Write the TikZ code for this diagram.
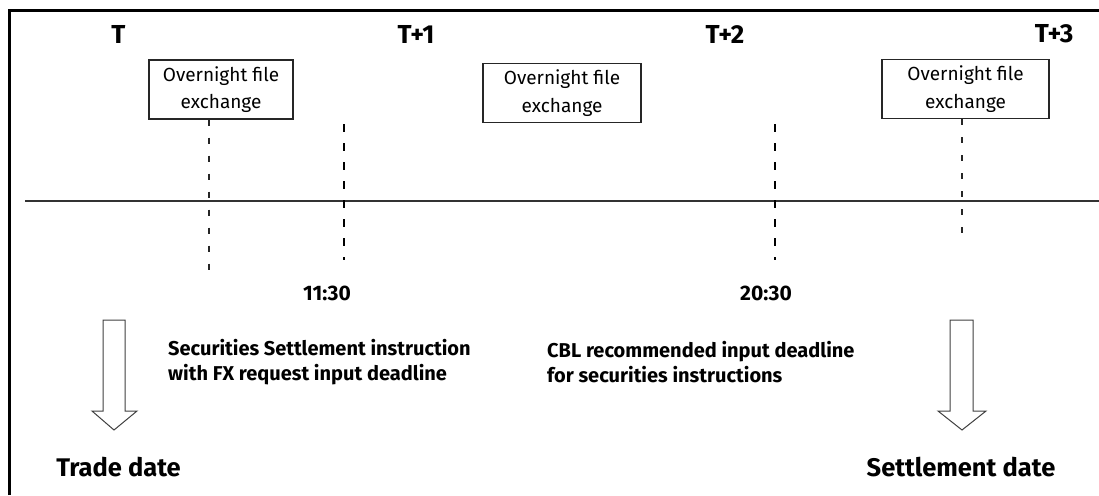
\documentclass[tikz,border=0pt]{standalone}
\usepackage{fontspec}
\setmainfont{Fira Sans}
\begin{document}
\begin{tikzpicture}[x=1pt,y=-1pt,
  hdr/.style={font=\bfseries\fontsize{26}{30}\selectfont, inner sep=0pt},
  lbl/.style={font=\bfseries\fontsize{20}{25}\selectfont, inner sep=0pt, align=left},
  bigl/.style={font=\bfseries\fontsize{25.5}{30}\selectfont, inner sep=0pt},
  tm/.style={font=\bfseries\fontsize{21}{25}\selectfont, inner sep=0pt},
  ofe/.style={draw=black!85, line width=1.1pt, font=\fontsize{19}{27.5}\selectfont, align=center, inner sep=0pt, minimum height=59pt},
  thindash/.style={draw=black!85, line width=1.1pt, dash pattern=on 6pt off 12pt},
  thickdash/.style={draw=black, line width=2.8pt, dash pattern=on 8pt off 11pt},
  bigarrow/.style={draw=black!75, line width=1pt, fill=white}
]
\useasboundingbox (0,0) rectangle (1099,495);
% frame (top and left)
\draw[line width=2.2pt] (9.5,495) -- (9.5,10.5) -- (1099,10.5);
% timeline
\coordinate (tlL) at (25,201);
\coordinate (tlR) at (1099,201);
\draw[black!80, line width=1.6pt] (tlL) -- (tlR);
% headers
\node[hdr] (t0) at (118.5,34) {T};
\node[hdr] (t1) at (416,34) {T+1};
\node[hdr] (t2) at (725,34) {T+2};
\node[hdr] (t3) at (1054,34) {T+3};
% overnight boxes
\node[ofe, minimum width=144pt] (b1) at (221,89.5) {Overnight file\\exchange};
\node[ofe, minimum width=158pt] (b2) at (562,93) {Overnight file\\exchange};
\node[ofe, minimum width=167pt] (b3) at (965.5,89) {Overnight file\\exchange};
% dashed lines
\coordinate (d1) at (209,277);
\coordinate (d4) at (962,236);
\draw[thindash] (b1.south -| d1) -- (d1);
\draw[thindash] (b3.south -| d4) -- (d4);
\coordinate (k1t) at (344,124);
\coordinate (k1b) at (344,260);
\coordinate (k2t) at (775,124);
\coordinate (k2b) at (775,260);
\draw[thickdash] (k1t) -- (k1b);
\draw[thickdash] (k2t) -- (k2b);
% times
\node[tm] (h1) at (327,293) {11:30};
\node[tm] (h2) at (766,293) {20:30};
% descriptions
\node[lbl, anchor=west] (s1) at (168,362) {Securities Settlement instruction\\with FX request input deadline};
\node[lbl, anchor=west] (s2) at (547,362) {CBL recommended input deadline\\for securities instructions};
% big arrows
\draw[bigarrow] (103,320) -- (125,320) -- (125,411) -- (137,411) -- (114,430) -- (92,411) -- (103,411) -- cycle;
\draw[bigarrow] (950,320) -- (973,320) -- (973,411) -- (986,411) -- (962,430) -- (938,411) -- (950,411) -- cycle;
% date labels
\node[bigl] (td) at (118.5,467) {Trade date};
\node[bigl] (sd) at (961,467) {Settlement date};
\end{tikzpicture}
\end{document}
